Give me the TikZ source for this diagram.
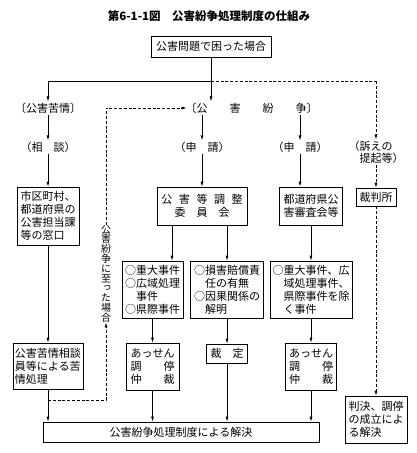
\documentclass[tikz,border=0pt]{standalone}
\usepackage{fontspec}
\setmainfont{Noto Sans CJK JP}
\newfontfamily\hfont[RawFeature=+halt]{Noto Sans CJK JP}
\newfontfamily\vfont[RawFeature=+vert]{Noto Sans CJK JP}
\usetikzlibrary{arrows.meta}
\newcommand{\bxsize}{\fontsize{11}{13}\selectfont}
\tikzset{
  >={Latex[length=5pt,width=3pt]},
  box/.style={draw, line width=0.7pt, inner sep=2pt, font=\bxsize},
  lbl/.style={inner sep=1pt, font=\hfont\bxsize},
  dashlink/.style={line width=0.7pt, dash pattern=on 3pt off 1.8pt}
}

\begin{document}
\begin{tikzpicture}[x=1pt,y=-1pt,line width=0.7pt]
      \useasboundingbox (0,0) rectangle (416,453);
      \node[font=\bfseries\fontsize{11.5}{12}\selectfont] (title) at (209,16) {第6-1-1図　公害紛争処理制度の仕組み};
      \node[box,minimum width=120pt,minimum height=21pt] (top) at (211,46.5) {公害問題で困った場合};
      \node[lbl] (kujo) at (48,108) {〔公害苦情〕};
      \node[lbl] (soudan) at (48,147) {（相　談）};
      \node[lbl] (funsou) at (251.5,108) {〔公　　害　　紛　　争〕};
      \node[lbl] (shin1) at (202,147) {（申　請）};
      \node[lbl] (shin2) at (300,147) {（申　請）};
      \node[lbl,align=left,font=\hfont\fontsize{11}{12}\selectfont] (sosho) at (376,152) {（訴えの\\\hspace{.5em}提起等）};
      \node[box,align=left,minimum width=62pt,minimum height=58pt] (madoguchi) at (48,216) {市区町村、\\都道府県の\\公害担当課\\等の窓口};
      \node[box,align=center,minimum width=90pt,minimum height=38pt] (chousei) at (202,206) {公\hspace{.6em}害\hspace{.6em}等\hspace{.6em}調\hspace{.6em}整\\委　員　会};
      \node[box,align=center,minimum width=63pt,minimum height=38pt] (shinsa) at (311,206) {都道府県公\\害審査会等};
      \node[box,minimum width=40pt,minimum height=18pt] (saiban) at (376,197) {裁判所};
      \node[box,align=left,minimum width=61pt,minimum height=57pt] (jikenA) at (152.5,289.5) {○重大事件\\○広域処理\\\phantom{○}事件\\○県際事件};
      \node[box,align=left,minimum width=73pt,minimum height=57pt] (songai) at (227,289.5) {○損害賠償責\\\phantom{○}任の有無\\○因果関係の\\\phantom{○}解明};
      \node[box,align=left,minimum width=82pt,minimum height=57pt] (jikenC) at (311,289.5) {○重大事件、広\\\phantom{○}域処理事件、\\\phantom{○}県際事件を除\\\phantom{○}く事件};
      \node[box,align=left,minimum width=70pt,minimum height=46pt] (shori) at (48,366) {公害苦情相談\\員等による苦\\情処理};
      \node[box,align=left,minimum width=53pt,minimum height=47pt] (assen1) at (152.5,366.5) {あっせん\\調　　停\\仲　　裁};
      \node[box,minimum width=41pt,minimum height=19pt] (saitei) at (227,353.5) {裁　定};
      \node[box,align=left,minimum width=51pt,minimum height=47pt] (assen2) at (311,366.5) {あっせん\\調　　停\\仲　　裁};
      \node[box,minimum width=276pt,minimum height=20pt] (kaiketsu) at (181,432) {公害紛争処理制度による解決};
      \node[box,align=left,minimum width=62pt,minimum height=47pt] (hanketsu) at (376,419.5) {判決、調停\\の成立によ\\る解決};
      \node[inner sep=0pt,align=center,font=\vfont\fontsize{10}{9.8}\selectfont] (vtext) at (106,273.5) {公\\害\\紛\\争\\に\\至\\っ\\た\\場\\合};
      \coordinate (jL) at (48,81);
      \coordinate (jR) at (376,81);
      \coordinate (jB) at (48,400);
      \draw[->] (top.south) -- (top.south |- funsou.north);
      \draw (jL) -- (top.south |- jL);
      \draw[dashlink] (top.south |- jL) -- (jR);
      \draw[dashlink,->] (jR) -- (sosho);
      \draw[->] (jL) -- (kujo);
      \draw[->] (kujo) -- (soudan);
      \draw[->] (soudan) -- (madoguchi);
      \draw[->] (madoguchi) -- (shori);
      \draw[->] (shori) -- (shori |- kaiketsu.north);
      \draw[->] (funsou.south -| shin1) -- (shin1);
      \draw[->] (funsou.south -| shin2) -- (shin2);
      \draw[->] (shin1) -- (chousei);
      \draw[->] (shin2) -- (shin2 |- shinsa.north);
      \draw[->] ([xshift=-30pt]chousei.south) -- ([xshift=-30pt]chousei.south |- jikenA.north);
      \draw[->] ([xshift=25pt]chousei.south) -- ([xshift=25pt]chousei.south |- songai.north);
      \draw[->] (shinsa) -- (jikenC);
      \draw[->] (jikenA) -- (assen1);
      \draw[->] (songai) -- (saitei);
      \draw[->] (jikenC) -- (assen2);
      \draw[->] (assen1) -- (assen1 |- kaiketsu.north);
      \draw[->] (saitei) -- (saitei |- kaiketsu.north);
      \draw[->] (assen2) -- (assen2 |- kaiketsu.north);
      \draw[dashlink,->] (sosho) -- (saiban);
      \draw[dashlink,->] (saiban) -- (hanketsu);
      \draw[dashlink,->,shorten >=3pt] (vtext.north) |- (funsou.west);
      \draw[dashlink,->] (jB) -| (vtext.south);
\end{tikzpicture}
\end{document}
